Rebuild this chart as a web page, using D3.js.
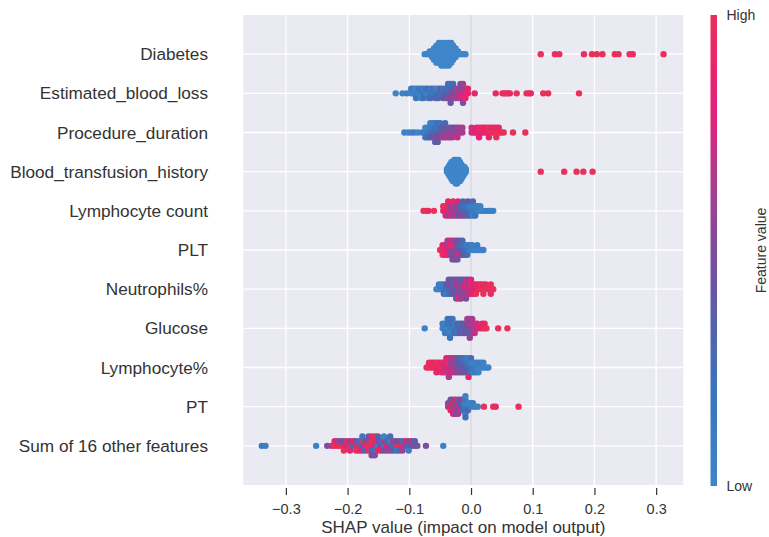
<!DOCTYPE html>
<html>
<head>
<meta charset="utf-8">
<script src="https://cdn.jsdelivr.net/npm/d3@7"></script>
<style>
body { margin: 0; background: #fff; }
svg { display: block; font-family: "Liberation Sans", Arial, sans-serif; }
</style>
</head>
<body>
<svg id="chart" width="769" height="537"></svg>
<script>
// features, top to bottom
var features = ["Diabetes", "Estimated_blood_loss", "Procedure_duration", "Blood_transfusion_history",
	"Lymphocyte count", "PLT", "Neutrophils%", "Glucose", "Lymphocyte%", "PT", "Sum of 16 other features"];

var xTicks = [-0.3, -0.2, -0.1, 0.0, 0.1, 0.2, 0.3];

// each point : [shap value, feature value (0 = low, 1 = high)]
var diabetes = [
	[-0.075,0],[-0.071,0],[-0.067,0],[-0.067,0],[-0.063,0],[-0.063,0],[-0.063,0],
	[-0.060,0],[-0.060,0],[-0.060,0],[-0.060,0],[-0.060,0],
	[-0.056,0],[-0.056,0],[-0.056,0],[-0.056,0],[-0.056,0],[-0.056,0],[-0.056,0],
	[-0.052,0],[-0.052,0],[-0.052,0],[-0.052,0],[-0.052,0],[-0.052,0],[-0.052,0],[-0.052,0],
	[-0.048,0],[-0.048,0],[-0.048,0],[-0.048,0],[-0.048,0],[-0.048,0],[-0.048,0],[-0.048,0],[-0.048,0],
	[-0.044,0],[-0.044,0],[-0.044,0],[-0.044,0],[-0.044,0],[-0.044,0],[-0.044,0],[-0.044,0],[-0.044,0],
	[-0.040,0],[-0.040,0],[-0.040,0],[-0.040,0],[-0.040,0],[-0.040,0],[-0.040,0],[-0.040,0],[-0.040,0],
	[-0.036,0],[-0.036,0],[-0.036,0],[-0.036,0],[-0.036,0],[-0.036,0],[-0.036,0],[-0.036,0],[-0.036,0],
	[-0.032,0],[-0.032,0],[-0.032,0],[-0.032,0],[-0.032,0],[-0.032,0],[-0.032,0],[-0.032,0],
	[-0.029,0],[-0.029,0],[-0.029,0],[-0.029,0],[-0.029,0],[-0.029,0],
	[-0.025,0],[-0.025,0],[-0.025,0],[-0.025,0],[-0.021,0],[-0.021,0],
	[-0.017,0],[-0.013,0],[-0.009,0],
	[0.113,1],[0.136,1],[0.143,1],[0.183,1],[0.196,1],[0.204,1],[0.213,1],[0.233,1],[0.239,1],[0.257,1],[0.262,1],[0.312,1]
];

var bloodLoss = [
	[-0.122,0],[-0.111,0.05],[-0.104,0.1],[-0.097,0],[-0.097,0.1],[-0.093,0.05],[-0.093,0.15],
	[-0.089,0.1],[-0.089,0],[-0.089,0.2],[-0.085,0.05],[-0.085,0.15],
	[-0.081,0.1],[-0.081,0.2],[-0.081,0],[-0.077,0.15],[-0.077,0.05],[-0.077,0.25],
	[-0.073,0.1],[-0.073,0.2],[-0.069,0.05],[-0.069,0.3],[-0.069,0.15],
	[-0.065,0.2],[-0.065,0.1],[-0.065,0.25],[-0.061,0.15],[-0.061,0.3],
	[-0.057,0.2],[-0.057,0.05],[-0.057,0.35],[-0.053,0.25],[-0.053,0.1],[-0.053,0.3],
	[-0.049,0.2],[-0.049,0.4],[-0.045,0.3],[-0.045,0.15],[-0.045,0.35],
	[-0.041,0.35],[-0.041,0.25],[-0.041,0.45],[-0.037,0.4],[-0.037,0.2],[-0.037,0.5],[-0.037,0.3],
	[-0.033,0.45],[-0.033,0.3],[-0.033,0.55],[-0.033,0.2],[-0.033,0.4],
	[-0.029,0.5],[-0.029,0.35],[-0.029,0.6],[-0.029,0.25],
	[-0.025,0.55],[-0.025,0.4],[-0.025,0.65],[-0.021,0.6],[-0.021,0.75],[-0.021,0.45],
	[-0.017,0.7],[-0.017,0.5],[-0.017,0.8],[-0.017,0.4],
	[-0.013,0.75],[-0.013,0.55],[-0.013,0.85],[-0.013,0.6],[-0.013,0.45],
	[-0.009,0.8],[-0.009,0.65],[-0.009,0.9],[-0.005,0.85],[-0.005,0.9],[0.006,0.9],
	[0.040,0.95],[0.051,1],[0.054,0.95],[0.057,1],[0.060,1],[0.063,0.95],[0.074,1],
	[0.090,1],[0.094,1],[0.097,0.95],[0.117,1],[0.125,1],[0.175,1]
];

var procedureDuration = [
	[-0.108,0.05],[-0.102,0],[-0.097,0.05],[-0.092,0.1],[-0.086,0],[-0.079,0.1],
	[-0.074,0.1],[-0.074,0],[-0.074,0.2],[-0.070,0.15],[-0.070,0.05],[-0.070,0.3],
	[-0.066,0.2],[-0.066,0.1],[-0.066,0.35],[-0.066,0.05],
	[-0.062,0.25],[-0.062,0.15],[-0.062,0.4],[-0.062,0.1],
	[-0.058,0.3],[-0.058,0.2],[-0.058,0.45],[-0.058,0.1],[-0.058,0.35],
	[-0.054,0.35],[-0.054,0.15],[-0.054,0.5],[-0.054,0.25],[-0.054,0.4],
	[-0.050,0.4],[-0.050,0.3],[-0.050,0.55],[-0.050,0.2],
	[-0.046,0.45],[-0.046,0.35],[-0.046,0.6],[-0.042,0.5],[-0.042,0.4],[-0.042,0.6],[-0.042,0.3],
	[-0.038,0.5],[-0.038,0.45],[-0.038,0.65],[-0.034,0.55],[-0.034,0.4],[-0.034,0.6],
	[-0.030,0.55],[-0.030,0.5],[-0.030,0.65],[-0.026,0.6],[-0.026,0.5],
	[-0.022,0.6],[-0.022,0.55],[-0.022,0.7],[-0.018,0.6],[-0.018,0.65],[-0.014,0.65],[-0.014,0.6],
	[0.001,0.7],[0.001,0.75],[0.005,0.8],[0.009,0.8],[0.009,0.85],
	[0.013,0.85],[0.013,0.9],[0.013,0.8],[0.017,0.9],[0.017,0.95],[0.021,0.9],[0.021,0.85],
	[0.025,0.95],[0.025,0.9],[0.029,0.95],[0.029,1],[0.029,0.9],[0.033,1],[0.033,0.95],
	[0.037,1],[0.037,0.95],[0.041,1],[0.041,0.95],[0.041,1],[0.045,1],[0.045,0.95],
	[0.049,1],[0.053,1],[0.068,1],[0.088,1]
];

var bloodTransfusion = [
	[-0.0390,0],[-0.0390,0],[-0.0366,0],[-0.0366,0],[-0.0366,0],[-0.0366,0],
	[-0.0343,0],[-0.0343,0],[-0.0343,0],[-0.0343,0],[-0.0343,0],[-0.0343,0],
	[-0.0319,0],[-0.0319,0],[-0.0319,0],[-0.0319,0],[-0.0319,0],[-0.0319,0],[-0.0319,0],[-0.0319,0],
	[-0.0296,0],[-0.0296,0],[-0.0296,0],[-0.0296,0],[-0.0296,0],[-0.0296,0],[-0.0296,0],[-0.0296,0],[-0.0296,0],
	[-0.0272,0],[-0.0272,0],[-0.0272,0],[-0.0272,0],[-0.0272,0],[-0.0272,0],[-0.0272,0],[-0.0272,0],[-0.0272,0],[-0.0272,0],
	[-0.0248,0],[-0.0248,0],[-0.0248,0],[-0.0248,0],[-0.0248,0],[-0.0248,0],[-0.0248,0],[-0.0248,0],[-0.0248,0],[-0.0248,0],[-0.0248,0],
	[-0.0225,0],[-0.0225,0],[-0.0225,0],[-0.0225,0],[-0.0225,0],[-0.0225,0],[-0.0225,0],[-0.0225,0],[-0.0225,0],[-0.0225,0],[-0.0225,0],
	[-0.0201,0],[-0.0201,0],[-0.0201,0],[-0.0201,0],[-0.0201,0],[-0.0201,0],[-0.0201,0],[-0.0201,0],[-0.0201,0],[-0.0201,0],
	[-0.0178,0],[-0.0178,0],[-0.0178,0],[-0.0178,0],[-0.0178,0],[-0.0178,0],[-0.0178,0],[-0.0178,0],[-0.0178,0],
	[-0.0154,0],[-0.0154,0],[-0.0154,0],[-0.0154,0],[-0.0154,0],[-0.0154,0],[-0.0154,0],
	[-0.0130,0],[-0.0130,0],[-0.0130,0],[-0.0130,0],[-0.0130,0],
	[-0.0107,0],[-0.0107,0],[-0.0107,0],[-0.0107,0],[-0.0083,0],[-0.0083,0],
	[0.113,1],[0.151,1],[0.171,1],[0.182,1],[0.197,1]
];

var lymphocyteCount = [
	[-0.077,1],[-0.073,1],[-0.069,0.95],[-0.060,1],
	[-0.045,0.9],[-0.045,1],[-0.041,0.85],[-0.041,1],[-0.041,0.75],
	[-0.037,0.8],[-0.037,0.95],[-0.037,0.6],[-0.037,0.9],[-0.033,0.7],[-0.033,0.55],[-0.033,0.85],
	[-0.029,0.6],[-0.029,0.75],[-0.029,0.5],[-0.029,0.95],[-0.025,0.55],[-0.025,0.45],[-0.025,0.7],
	[-0.021,0.5],[-0.021,0.6],[-0.021,0.4],[-0.021,0.8],[-0.017,0.45],[-0.017,0.3],[-0.017,0.55],
	[-0.013,0.4],[-0.013,0.25],[-0.013,0.5],[-0.013,0.35],[-0.009,0.3],[-0.009,0.2],[-0.009,0.45],
	[-0.005,0.25],[-0.005,0.15],[-0.005,0.35],[-0.005,0.4],[-0.001,0.2],[-0.001,0.1],[-0.001,0.3],
	[0.003,0.15],[0.003,0.1],[0.003,0.05],[0.003,0.3],[0.007,0.1],[0.007,0.05],[0.007,0.2],
	[0.011,0.05],[0.011,0.1],[0.015,0.05],[0.015,0.05],[0.019,0.05],[0.023,0.05],[0.028,0.1],[0.032,0.05],[0.036,0.05]
];

var plt = [
	[-0.050,1],[-0.046,0.95],[-0.046,0.9],[-0.046,1],[-0.042,0.85],[-0.042,0.75],[-0.042,0.95],
	[-0.038,0.8],[-0.038,0.7],[-0.038,0.9],[-0.038,0.6],[-0.034,0.65],[-0.034,0.85],[-0.034,0.55],[-0.034,0.75],
	[-0.030,0.6],[-0.030,0.95],[-0.030,0.5],[-0.030,0.7],[-0.030,0.45],
	[-0.026,0.5],[-0.026,0.9],[-0.026,0.4],[-0.026,0.6],[-0.026,0.55],
	[-0.022,0.45],[-0.022,0.35],[-0.022,0.8],[-0.022,0.5],[-0.022,0.4],
	[-0.018,0.4],[-0.018,0.3],[-0.018,0.6],[-0.018,0.45],[-0.014,0.35],[-0.014,0.25],[-0.014,0.5],[-0.014,0.3],
	[-0.010,0.3],[-0.010,0.2],[-0.010,0.4],[-0.006,0.2],[-0.006,0.1],[-0.006,0.25],
	[-0.002,0.1],[-0.002,0.15],[0.002,0.05],[0.002,0.1],
	[0.006,0.05],[0.010,0.05],[0.010,0.1],[0.014,0.05],[0.017,0.05],[0.020,0.05]
];

var neutrophils = [
	[-0.056,0.05],[-0.052,0.05],[-0.052,0.1],[-0.048,0.1],[-0.048,0.05],
	[-0.044,0.15],[-0.044,0.1],[-0.044,0.3],[-0.040,0.2],[-0.040,0.35],[-0.040,0.1],
	[-0.036,0.3],[-0.036,0.4],[-0.036,0.2],[-0.036,0.45],[-0.032,0.35],[-0.032,0.5],[-0.032,0.25],[-0.032,0.4],
	[-0.028,0.4],[-0.028,0.3],[-0.028,0.55],[-0.028,0.45],
	[-0.024,0.45],[-0.024,0.6],[-0.024,0.35],[-0.024,0.5],[-0.024,0.3],
	[-0.020,0.5],[-0.020,0.7],[-0.020,0.4],[-0.020,0.55],[-0.020,0.9],
	[-0.016,0.55],[-0.016,0.45],[-0.016,0.65],[-0.016,0.35],[-0.016,0.6],
	[-0.012,0.6],[-0.012,0.75],[-0.012,0.5],[-0.012,0.4],
	[-0.008,0.65],[-0.008,0.9],[-0.008,0.55],[-0.008,0.7],[-0.008,0.5],
	[-0.004,0.7],[-0.004,0.6],[-0.004,0.85],[-0.004,0.5],
	[0.000,0.75],[0.000,0.95],[0.000,0.65],[0.000,0.8],
	[0.004,0.85],[0.004,0.8],[0.004,0.9],[0.008,0.9],[0.008,0.85],[0.008,1],
	[0.012,0.95],[0.012,0.9],[0.016,1],[0.016,0.95],[0.020,1],[0.020,0.95],[0.020,1],
	[0.024,1],[0.024,0.95],[0.028,1],[0.032,1],[0.032,1],[0.032,0.95],[0.036,1]
];

var glucose = [
	[-0.075,0.05],[-0.046,0.05],[-0.046,0.1],[-0.042,0.1],[-0.042,0.05],[-0.042,0.15],
	[-0.038,0.05],[-0.038,0.2],[-0.038,0.1],[-0.038,0.15],
	[-0.034,0.1],[-0.034,0.15],[-0.034,0.05],[-0.034,0.25],[-0.034,0.2],
	[-0.030,0.15],[-0.030,0.3],[-0.030,0.1],[-0.030,0.2],[-0.026,0.2],[-0.026,0.1],[-0.026,0.3],
	[-0.022,0.25],[-0.022,0.35],[-0.022,0.15],[-0.018,0.3],[-0.018,0.2],[-0.018,0.4],
	[-0.014,0.35],[-0.014,0.45],[-0.014,0.25],[-0.010,0.4],[-0.010,0.3],[-0.010,0.5],
	[-0.006,0.45],[-0.006,0.55],[-0.006,0.35],[-0.006,0.6],
	[-0.002,0.5],[-0.002,0.6],[-0.002,0.4],[-0.002,0.65],[-0.002,0.55],
	[0.002,0.55],[0.002,0.7],[0.002,0.5],[0.002,0.6],[0.006,0.6],[0.006,0.65],[0.006,0.7],
	[0.010,0.7],[0.010,0.75],[0.014,0.85],[0.018,0.95],[0.018,0.9],[0.022,1],[0.022,0.95],[0.025,1],
	[0.044,1],[0.059,1]
];

var lymphocytePct = [
	[-0.072,1],[-0.068,1],[-0.068,0.95],[-0.064,0.95],[-0.064,1],[-0.060,1],[-0.060,0.9],
	[-0.056,0.95],[-0.056,1],[-0.056,0.85],[-0.052,0.9],[-0.052,1],
	[-0.048,1],[-0.048,0.85],[-0.048,0.95],[-0.044,0.8],[-0.044,0.95],[-0.044,0.75],
	[-0.040,0.85],[-0.040,0.7],[-0.040,0.95],[-0.040,0.8],
	[-0.036,0.75],[-0.036,1],[-0.036,0.6],[-0.036,0.85],[-0.036,0.65],
	[-0.032,0.7],[-0.032,0.55],[-0.032,0.8],[-0.032,0.6],[-0.028,0.6],[-0.028,0.5],[-0.028,0.7],[-0.028,0.9],
	[-0.024,0.55],[-0.024,0.45],[-0.024,0.6],[-0.024,0.4],[-0.020,0.5],[-0.020,0.4],[-0.020,0.55],[-0.020,0.35],
	[-0.016,0.45],[-0.016,0.35],[-0.016,0.5],[-0.016,0.3],[-0.012,0.4],[-0.012,0.3],[-0.012,0.45],[-0.012,0.25],
	[-0.008,0.35],[-0.008,0.2],[-0.008,0.4],[-0.008,0.15],
	[-0.004,0.3],[-0.004,0.15],[-0.004,0.35],[-0.004,0.1],[-0.004,0.9],
	[0.000,0.2],[0.000,0.1],[0.000,0.25],[0.000,0.3],
	[0.004,0.15],[0.004,0.05],[0.004,0.1],[0.008,0.1],[0.008,0.05],[0.008,0.15],
	[0.012,0.05],[0.012,0.1],[0.012,0.05],[0.016,0.05],[0.016,0.1],[0.020,0.05],[0.020,0.05],
	[0.024,0.05],[0.028,0.05]
];

var pt = [
	[-0.037,0.7],[-0.037,0.5],[-0.033,0.8],[-0.033,0.6],[-0.033,0.9],[-0.033,0.4],
	[-0.029,0.55],[-0.029,0.95],[-0.029,0.7],[-0.029,0.45],[-0.029,0.85],
	[-0.025,0.6],[-0.025,0.5],[-0.025,0.75],[-0.025,0.9],[-0.025,0.4],
	[-0.021,0.45],[-0.021,0.8],[-0.021,0.55],[-0.021,0.3],[-0.021,0.65],
	[-0.017,0.5],[-0.017,0.35],[-0.017,0.7],[-0.017,0.45],[-0.013,0.4],[-0.013,0.2],[-0.013,0.3],[-0.013,0.6],
	[-0.009,0.1],[-0.009,0.05],[-0.009,0.2],[-0.009,0.15],[-0.009,0.1],[-0.009,0.05],[-0.009,0.25],
	[-0.005,0.15],[-0.005,0.05],[-0.005,0.3],[-0.001,0.1],[-0.001,0.05],
	[0.003,0.05],[0.003,0.1],[0.007,0.05],[0.011,0.05],
	[0.021,1],[0.036,1],[0.040,0.95],[0.077,1]
];

var otherFeatures = [
	[-0.339,0.15],[-0.333,0.1],[-0.251,0.05],[-0.233,0.5],[-0.226,0.7],
	[-0.221,1],[-0.221,0.9],[-0.216,0.95],[-0.216,0.6],[-0.211,1],[-0.211,0.5],
	[-0.206,0.9],[-0.206,0.4],[-0.206,1],[-0.201,0.7],[-0.201,0.95],
	[-0.196,1],[-0.196,0.55],[-0.196,0.85],[-0.191,0.3],[-0.191,0.9],
	[-0.186,0.95],[-0.186,0.45],[-0.186,1],[-0.181,0.6],[-0.181,0.2],[-0.181,0.9],
	[-0.176,0.35],[-0.176,1],[-0.176,0.7],[-0.176,0.15],[-0.171,0.9],[-0.171,0.5],[-0.171,0.25],
	[-0.166,1],[-0.166,0.6],[-0.166,0.95],[-0.166,0.4],
	[-0.161,0.95],[-0.161,1],[-0.161,0.3],[-0.161,0.9],[-0.161,0.55],
	[-0.156,0.7],[-0.156,0.95],[-0.156,0.2],[-0.156,1],[-0.156,0.45],
	[-0.151,0.1],[-0.151,0.6],[-0.151,0.85],[-0.151,0.35],[-0.146,0.5],[-0.146,0.25],[-0.146,0.9],
	[-0.141,0.15],[-0.141,0.7],[-0.141,0.4],[-0.141,0.05],[-0.136,0.8],[-0.136,0.3],[-0.136,0.55],
	[-0.131,0.45],[-0.131,0.1],[-0.131,0.65],[-0.131,0.25],[-0.126,0.2],[-0.126,0.6],[-0.126,0.35],
	[-0.121,0.95],[-0.121,0.4],[-0.121,0.15],[-0.116,1],[-0.116,0.5],[-0.116,0.3],
	[-0.111,0.85],[-0.111,0.2],[-0.111,0.6],[-0.106,0.45],[-0.106,0.9],
	[-0.101,0.3],[-0.101,0.55],[-0.101,0.1],[-0.096,0.4],[-0.096,0.65],
	[-0.091,0.5],[-0.091,0.35],[-0.087,0.45],[-0.073,0.5],[-0.045,0.05]
];

var rows = [diabetes, bloodLoss, procedureDuration, bloodTransfusion, lymphocyteCount,
	plt, neutrophils, glucose, lymphocytePct, pt, otherFeatures];

// colormap low -> high
var cStops = [0, 0.2, 0.35, 0.5, 0.65, 0.78, 0.9, 1];
var cColors = ["#3f86c9", "#3a74bb", "#5660aa", "#7e4c9c", "#ac3b8d", "#e0237c", "#e8256a", "#e8305a"];


var svg = d3.select("#chart"),
	plot = { left: 243.3, right: 683.3, top: 15, bottom: 485 },
	rowHeight = 0.4,
	nbins = 100;

var x = d3.scaleLinear().domain([-0.369, 0.344]).range([plot.left, plot.right]);
var y = d3.scaleLinear().domain([-1, features.length]).range([plot.bottom, plot.top]);
var color = d3.scaleLinear().domain(cStops).range(cColors).interpolate(d3.interpolateRgb);

// vertical offsets, binned the way the beeswarm stacks them
function swarm(pts) {
	var vals = pts.map(p => p[0]),
		lo = d3.min(vals), hi = d3.max(vals),
		quant = vals.map(v => Math.round(nbins * (v - lo) / (hi - lo + 1e-8))),
		order = d3.range(pts.length).sort((a, b) => quant[a] - quant[b] || a - b),
		ys = new Array(pts.length).fill(0),
		layer = 0, last = -1;
	order.forEach(i => {
		if (quant[i] !== last) layer = 0;
		ys[i] = Math.ceil(layer / 2) * ((layer % 2) * 2 - 1);
		layer++;
		last = quant[i];
	});
	var k = 0.9 * rowHeight / d3.max(ys, v => v + 1);
	return ys.map(v => v * k);
}

// background + grid
svg.append("rect")
	.attr("x", plot.left).attr("y", plot.top)
	.attr("width", plot.right - plot.left).attr("height", plot.bottom - plot.top)
	.attr("fill", "#eaeaf2");

var grid = svg.append("g").attr("stroke", "#fff").attr("stroke-width", 1.3);
grid.selectAll(".gx").data(xTicks).enter().append("line")
	.attr("x1", d => x(d)).attr("x2", d => x(d))
	.attr("y1", plot.top).attr("y2", plot.bottom);
grid.selectAll(".gy").data(features).enter().append("line")
	.attr("x1", plot.left).attr("x2", plot.right)
	.attr("y1", (d, i) => y(features.length - 1 - i))
	.attr("y2", (d, i) => y(features.length - 1 - i));

svg.append("line")
	.attr("x1", x(0)).attr("x2", x(0))
	.attr("y1", plot.top).attr("y2", plot.bottom)
	.attr("stroke", "#c6c6cc").attr("stroke-width", 1);

// dots
rows.forEach((pts, i) => {
	var pos = features.length - 1 - i,
		ys = swarm(pts);
	svg.append("g").selectAll("circle").data(pts).enter().append("circle")
		.attr("cx", d => x(d[0]))
		.attr("cy", (d, j) => y(pos + ys[j]))
		.attr("r", 3.2)
		.attr("fill", d => color(d[1]));
});

// feature names
svg.append("g").selectAll("text").data(features).enter().append("text")
	.attr("x", 208)
	.attr("y", (d, i) => y(features.length - 1 - i))
	.attr("dy", "0.35em")
	.attr("text-anchor", "end")
	.attr("font-size", 17.2)
	.attr("fill", "#333")
	.text(d => d);

// x axis
var axis = svg.append("g")
	.attr("transform", "translate(0," + 488 + ")")
	.call(d3.axisBottom(x).tickValues(xTicks).tickSize(7).tickPadding(9).tickFormat(d3.format(".1f")));
axis.select(".domain").remove();
axis.selectAll("line").attr("stroke", "#333").attr("stroke-width", 1.2);
axis.selectAll("text").attr("font-size", 14.5).attr("fill", "#333")
	.attr("font-family", "'Liberation Sans', Arial, sans-serif");

svg.append("text")
	.attr("x", (plot.left + plot.right) / 2).attr("y", 533)
	.attr("text-anchor", "middle")
	.attr("font-size", 17).attr("fill", "#333")
	.text("SHAP value (impact on model output)");

// colorbar
var bar = { x: 710.5, w: 6.5, top: 15, bottom: 486 };
var grad = svg.append("defs").append("linearGradient")
	.attr("id", "cbar").attr("x1", 0).attr("y1", 1).attr("x2", 0).attr("y2", 0);
grad.selectAll("stop").data(cStops).enter().append("stop")
	.attr("offset", d => d)
	.attr("stop-color", (d, i) => cColors[i]);
svg.append("rect")
	.attr("x", bar.x).attr("y", bar.top)
	.attr("width", bar.w).attr("height", bar.bottom - bar.top)
	.attr("fill", "url(#cbar)");

svg.append("text").attr("x", 726.5).attr("y", 19.5)
	.attr("font-size", 14).attr("fill", "#333").text("High");
svg.append("text").attr("x", 726.5).attr("y", 491)
	.attr("font-size", 14).attr("fill", "#333").text("Low");
svg.append("text")
	.attr("transform", "translate(766," + ((bar.top + bar.bottom) / 2) + ") rotate(-90)")
	.attr("text-anchor", "middle")
	.attr("font-size", 14).attr("fill", "#333")
	.text("Feature value");
</script>
</body>
</html>
